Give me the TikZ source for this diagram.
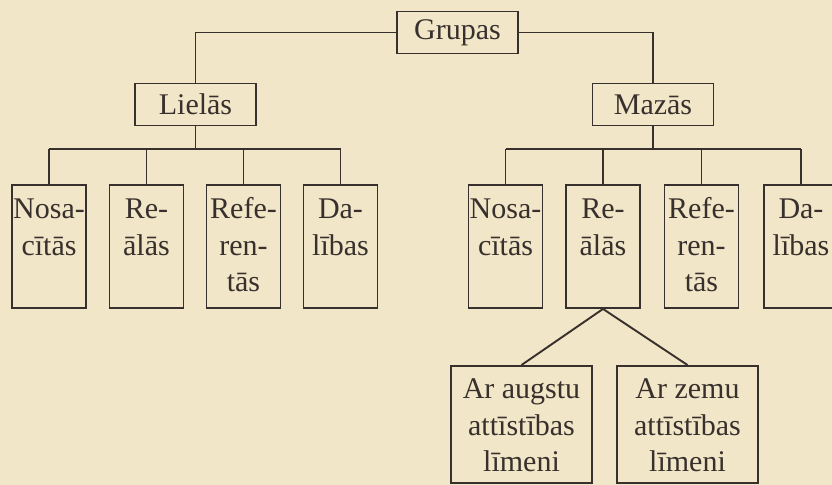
\documentclass[tikz,border=0pt]{standalone}
\usepackage{fontspec}
\setmainfont{Liberation Serif}
\usetikzlibrary{positioning}
\definecolor{paper}{RGB}{242,230,200}
\definecolor{ink}{RGB}{55,48,44}
\newcommand{\leaftxt}[1]{\parbox[c][61.5pt][t]{37pt}{\centering\rule{0pt}{17pt}#1}}
\newcommand{\subtxt}[1]{\parbox[c][58.5pt][t]{70.5pt}{\centering\rule{0pt}{16.5pt}#1}}

\begin{document}
\begin{tikzpicture}[x=0.5pt,y=-0.5pt,font=\fontsize{15}{18.2}\selectfont,text=ink,
  head/.style={draw=ink,line width=0.95pt,minimum width=60.5pt,minimum height=21pt,inner sep=0pt},
  leaf/.style={draw=ink,line width=0.95pt,inner sep=0pt},
  sub/.style ={draw=ink,line width=0.95pt,inner sep=0pt},
  link/.style={draw=ink,line width=0.95pt}]
\fill[paper] (0,0) rectangle (832,485);
\useasboundingbox (0,0) rectangle (832,485);
\node[head] (gr) at (457.5,32.5) {Grupas};
\node[head] (li) at (195.5,104.5) {Lielās};
\node[head] (ma) at (653,104.5) {Mazās};
\node[leaf] (lN) at (49,246.5)    {\leaftxt{Nosa-\\cītās}};
\node[leaf] (lR) at (146.5,246.5) {\leaftxt{Re-\\ālās}};
\node[leaf] (lF) at (243.5,246.5) {\leaftxt{Refe-\\ren-\\tās}};
\node[leaf] (lD) at (340.5,246.5) {\leaftxt{Da-\\lības}};
\node[leaf] (mN) at (505.5,246.5) {\leaftxt{Nosa-\\cītās}};
\node[leaf] (mR) at (603,246.5)   {\leaftxt{Re-\\ālās}};
\node[leaf] (mF) at (701.5,246.5) {\leaftxt{Refe-\\ren-\\tās}};
\node[leaf] (mD) at (801,246.5)   {\leaftxt{Da-\\lības}};
\node[sub]  (aA) at (521.5,424.5) {\subtxt{Ar augstu\\attīstības\\līmeni}};
\node[sub]  (aZ) at (687.5,424.5) {\subtxt{Ar zemu\\attīstības\\līmeni}};
\coordinate (lbar) at (195.5,149);
\coordinate (mbar) at (653,149);
\draw[link] (gr.west) -| (li.north);
\draw[link] (gr.east) -| (ma.north);
\draw[link] (li.south) -- (lbar);
\draw[link] (ma.south) -- (mbar);
\draw[link] (lN.north |- lbar) -- (lD.north |- lbar);
\draw[link] (mN.north |- mbar) -- (mD.north |- mbar);
\foreach \n in {lN,lR,lF,lD}
  \draw[link] (\n.north) -- (\n.north |- lbar);
\foreach \n in {mN,mR,mF,mD}
  \draw[link] (\n.north) -- (\n.north |- mbar);
\draw[link] (aA.north) -- (mR.south) -- (aZ.north);
\end{tikzpicture}
\end{document}
